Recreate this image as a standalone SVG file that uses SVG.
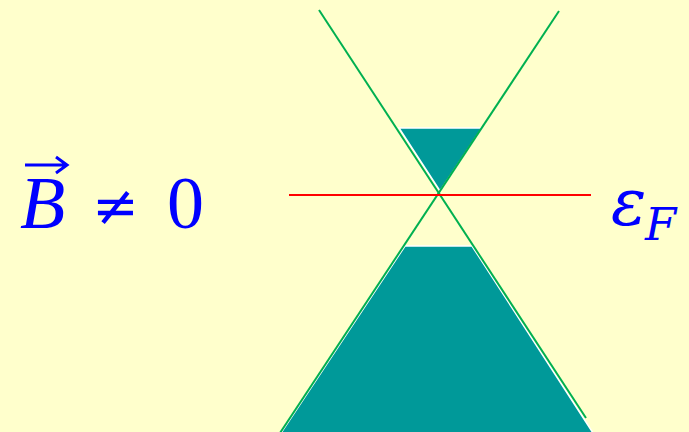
<svg xmlns="http://www.w3.org/2000/svg" width="689" height="432" viewBox="0 0 689 432">
<style>
.fill{fill:#009999;stroke:#ffffff;stroke-width:1.5}
.cone{stroke:#00b050;stroke-width:2;fill:none}
.lbl{fill:#0000ff;font-family:"Liberation Serif","DejaVu Serif",serif}
.lbl2{fill:#0000ff;font-family:"DejaVu Serif","Liberation Serif",serif}
</style>
<rect width="689" height="432" fill="#ffffcc"/>
<g id="filled-upper"><polygon class="fill" points="399,128 482,128 440,191"/></g>
<g id="filled-lower"><polygon class="fill" points="405,246 472,246 593,433 281,433"/></g>
<g id="connectors">
<line class="cone" x1="319" y1="10" x2="586" y2="418"/>
<line class="cone" x1="559" y1="11" x2="280" y2="433"/>
<line x1="289" y1="195" x2="591" y2="195" stroke="#ff0000" stroke-width="2"/>
</g>
<g id="label-B">
<text class="lbl" x="20" y="228" font-size="74" font-style="italic">B</text>
<path d="M25,165 H66 M56,157 L67,165 L56,173" stroke="#0000ff" stroke-width="3" fill="none"/>
<text class="lbl2" x="92" y="225" font-size="56">≠</text>
<text class="lbl" x="167" y="228" font-size="74">0</text>
</g>
<g id="label-eF">
<text class="lbl2" x="611" y="225" font-size="66" font-style="italic">ε</text>
<text class="lbl2" x="645" y="240" font-size="45" font-style="italic">F</text>
</g>
</svg>
